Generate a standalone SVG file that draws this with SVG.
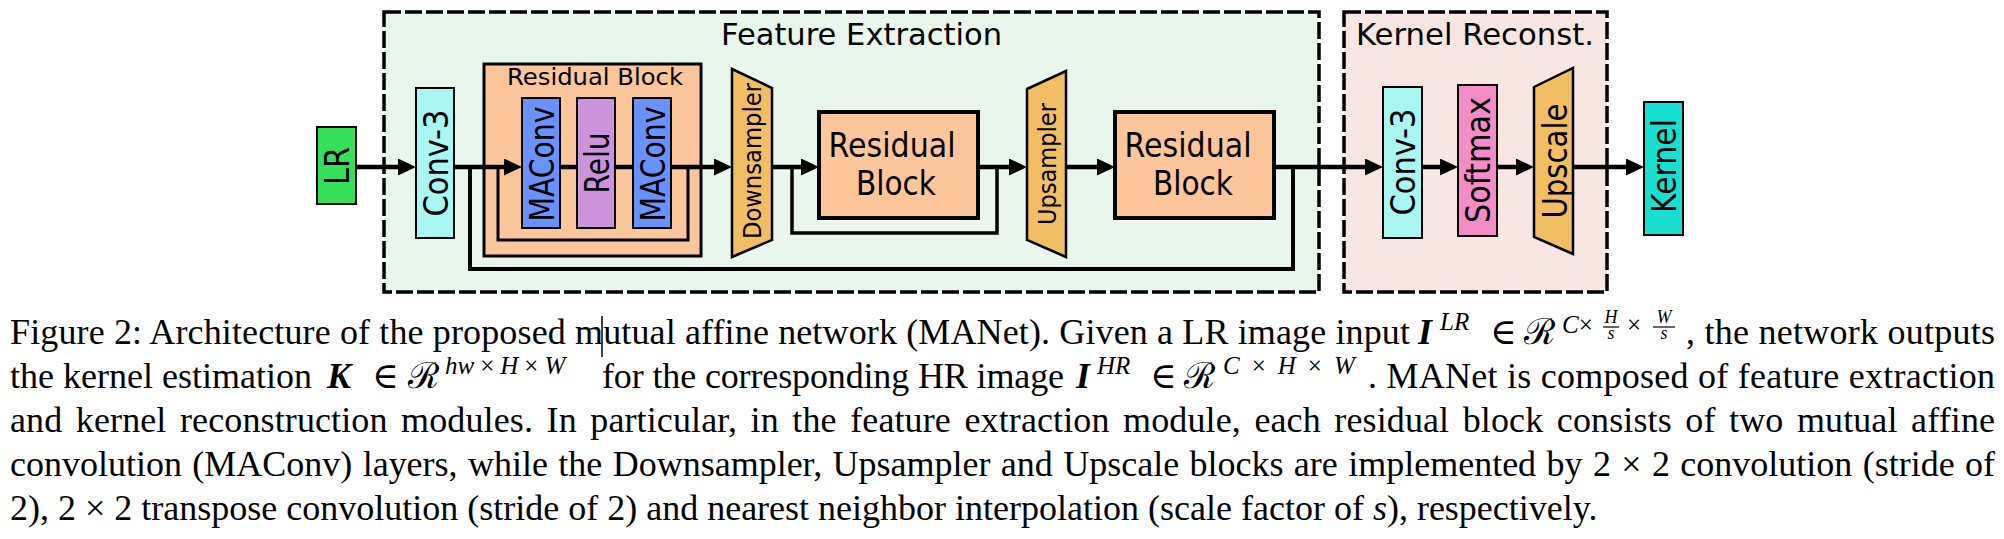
<svg xmlns="http://www.w3.org/2000/svg" width="2004" height="539" viewBox="0 0 2004 539">
<defs>
<style>
.sans{font-family:"DejaVu Sans",Verdana,sans-serif;fill:#000}
.vt{font-size:33px;text-anchor:middle;dominant-baseline:central}
.box{stroke:#000;stroke-width:2}
.rb{fill:#fdc59a;stroke:#000;stroke-width:4}
.trap{fill:#f2be64;stroke:#000;stroke-width:2.5;stroke-linejoin:miter}
.group{stroke:#000;stroke-width:3.5;stroke-dasharray:17 4}
.cap{font-family:"Liberation Serif","Times New Roman","DejaVu Serif",serif;font-size:36px;fill:#000}
.sup{font-size:25px}
.frac{font-size:18px}
.it{font-style:italic}
.bi{font-style:italic;font-weight:bold}
.conn{fill:none;stroke:#000;stroke-linejoin:miter}
.main{stroke-width:4.5}
</style>
<marker id="ah" markerUnits="userSpaceOnUse" markerWidth="18" markerHeight="17" viewBox="0 0 18 17" refX="8" refY="8.5" orient="auto">
<path d="M0,0 L18,8.5 L0,17 z" fill="#000"/>
</marker>
</defs>
<rect x="0" y="0" width="2004" height="539" fill="#fff"/>

<g id="feature-extraction">
<rect class="group" x="384" y="12" width="935" height="280" fill="#e8f6ec"/>
<text class="sans" x="721" y="45" font-size="30" textLength="281" lengthAdjust="spacingAndGlyphs">Feature Extraction</text>
</g>
<g id="kernel-reconst">
<rect class="group" x="1344" y="12" width="263" height="280" fill="#f8e6e2"/>
<text class="sans" x="1356" y="45" font-size="30" textLength="238" lengthAdjust="spacingAndGlyphs">Kernel Reconst.</text>
</g>

<g id="lr">
<rect class="box" x="317" y="127" width="39" height="77" fill="#35df58"/>
<text class="sans vt" transform="translate(337,166) rotate(-90)" textLength="38" lengthAdjust="spacingAndGlyphs">LR</text>
</g>
<g id="conv3-a">
<rect class="box" x="416" y="88" width="38" height="150" fill="#a8f7f5"/>
<text class="sans vt" transform="translate(436,163) rotate(-90)" textLength="107" lengthAdjust="spacingAndGlyphs">Conv-3</text>
</g>
<g id="residual-block-1">
<rect x="484" y="64" width="217" height="192" fill="#fdc59a" stroke="#000" stroke-width="3"/>
<text class="sans" x="507" y="85" font-size="23" textLength="176" lengthAdjust="spacingAndGlyphs">Residual Block</text>
</g>
<g id="maconv-1">
<rect class="box" x="522" y="98" width="38" height="130" fill="#6a92fd"/>
<text class="sans vt" transform="translate(542,164) rotate(-90)" textLength="115" lengthAdjust="spacingAndGlyphs">MAConv</text>
</g>
<g id="relu">
<rect class="box" x="577" y="98" width="38" height="130" fill="#cc92dc"/>
<text class="sans vt" transform="translate(597,163) rotate(-90)" textLength="61" lengthAdjust="spacingAndGlyphs">Relu</text>
</g>
<g id="maconv-2">
<rect class="box" x="633" y="98" width="38" height="130" fill="#6a92fd"/>
<text class="sans vt" transform="translate(653,164) rotate(-90)" textLength="115" lengthAdjust="spacingAndGlyphs">MAConv</text>
</g>
<g id="downsampler">
<polygon class="trap" points="732,69 772,88 772,240 732,257"/>
<text class="sans" transform="translate(752,161) rotate(-90)" font-size="25" text-anchor="middle" dominant-baseline="central" textLength="156" lengthAdjust="spacingAndGlyphs">Downsampler</text>
</g>
<g id="residual-block-2">
<rect class="rb" x="819" y="112" width="159" height="106"/>
<text class="sans" x="892" y="157" font-size="33" text-anchor="middle" textLength="127" lengthAdjust="spacingAndGlyphs">Residual</text>
<text class="sans" x="896" y="195" font-size="33" text-anchor="middle" textLength="80" lengthAdjust="spacingAndGlyphs">Block</text>
</g>
<g id="upsampler">
<polygon class="trap" points="1027,89 1066,71 1066,257 1027,240"/>
<text class="sans" transform="translate(1047,164) rotate(-90)" font-size="25" text-anchor="middle" dominant-baseline="central" textLength="122" lengthAdjust="spacingAndGlyphs">Upsampler</text>
</g>
<g id="residual-block-3">
<rect class="rb" x="1115" y="112" width="159" height="106"/>
<text class="sans" x="1188" y="157" font-size="33" text-anchor="middle" textLength="127" lengthAdjust="spacingAndGlyphs">Residual</text>
<text class="sans" x="1193" y="195" font-size="33" text-anchor="middle" textLength="80" lengthAdjust="spacingAndGlyphs">Block</text>
</g>
<g id="conv3-b">
<rect class="box" x="1383" y="87" width="39" height="151" fill="#a8f7f5"/>
<text class="sans vt" transform="translate(1403,162) rotate(-90)" textLength="107" lengthAdjust="spacingAndGlyphs">Conv-3</text>
</g>
<g id="softmax">
<rect class="box" x="1458" y="85" width="39" height="151" fill="#f48cc9"/>
<text class="sans vt" transform="translate(1478,160) rotate(-90)" textLength="126" lengthAdjust="spacingAndGlyphs">Softmax</text>
</g>
<g id="upscale">
<polygon class="trap" points="1534,87 1573,68 1573,254 1534,237"/>
<text class="sans vt" transform="translate(1555,161) rotate(-90)" textLength="115" lengthAdjust="spacingAndGlyphs">Upscale</text>
</g>
<g id="kernel">
<rect class="box" x="1644" y="102" width="39" height="133" fill="#17e0d2"/>
<text class="sans vt" transform="translate(1664,166) rotate(-90)" textLength="94" lengthAdjust="spacingAndGlyphs">Kernel</text>
</g>

<g id="connectors">
<path class="conn" stroke-width="4" d="M470,167 V269 H1293 V167"/>
<path class="conn" stroke-width="3" d="M498,167 V240 H688 V167"/>
<path class="conn" stroke-width="3.5" d="M792,167 V233 H997 V167"/>
<path class="conn main" d="M356,167 H406" marker-end="url(#ah)"/>
<path class="conn main" d="M454,167 H512" marker-end="url(#ah)"/>
<path class="conn main" d="M560,167 H577"/>
<path class="conn main" d="M615,167 H633"/>
<path class="conn main" d="M671,167 H722" marker-end="url(#ah)"/>
<path class="conn main" d="M771,167 H809" marker-end="url(#ah)"/>
<path class="conn main" d="M978,167 H1017" marker-end="url(#ah)"/>
<path class="conn main" d="M1066,167 H1105" marker-end="url(#ah)"/>
<path class="conn main" d="M1274,167 H1373" marker-end="url(#ah)"/>
<path class="conn main" d="M1422,167 H1448" marker-end="url(#ah)"/>
<path class="conn main" d="M1497,167 H1524" marker-end="url(#ah)"/>
<path class="conn main" d="M1573,167 H1634" marker-end="url(#ah)"/>
</g>

<g id="caption">
<text class="cap" x="10" y="344" textLength="1400" lengthAdjust="spacing">Figure 2: Architecture of the proposed mutual affine network (MANet). Given a LR image input</text>
<line x1="602" y1="316" x2="602" y2="357" stroke="#000" stroke-width="1.5"/>
<text class="cap bi" x="1418" y="344" font-size="38">I</text>
<text class="cap it sup" x="1440" y="330">LR</text>
<text class="cap" x="1490" y="344">∈</text>
<text class="cap" x="1524" y="344">ℛ</text>
<text class="cap sup" x="1562" y="333"><tspan class="it">C</tspan>×</text>
<text class="cap it frac" x="1611" y="323" text-anchor="middle">H</text>
<line x1="1603" y1="327" x2="1619" y2="327" stroke="#000" stroke-width="1.2"/>
<text class="cap it frac" x="1611" y="339" text-anchor="middle">s</text>
<text class="cap sup" x="1627" y="333">×</text>
<text class="cap it frac" x="1664" y="323" text-anchor="middle">W</text>
<line x1="1653" y1="327" x2="1675" y2="327" stroke="#000" stroke-width="1.2"/>
<text class="cap it frac" x="1664" y="339" text-anchor="middle">s</text>
<text class="cap" x="1686" y="344" textLength="309" lengthAdjust="spacing">, the network outputs</text>

<text class="cap" x="10" y="388">the kernel estimation</text>
<text class="cap bi" x="327" y="388" font-size="38">K</text>
<text class="cap" x="372" y="388">∈</text>
<text class="cap" x="408" y="388">ℛ</text>
<text class="cap sup" x="445" y="374"><tspan class="it">hw</tspan><tspan dx="6">×</tspan><tspan class="it" dx="6">H</tspan><tspan dx="6">×</tspan><tspan class="it" dx="6">W</tspan></text>
<text class="cap" x="602" y="388" textLength="462" lengthAdjust="spacing">for the corresponding HR image</text>
<text class="cap bi" x="1076" y="388" font-size="38">I</text>
<text class="cap it sup" x="1097" y="374">HR</text>
<text class="cap" x="1150" y="388">∈</text>
<text class="cap" x="1184" y="388">ℛ</text>
<text class="cap sup" x="1223" y="374"><tspan class="it">C</tspan><tspan dx="12">×</tspan><tspan class="it" dx="12">H</tspan><tspan dx="12">×</tspan><tspan class="it" dx="12">W</tspan></text>
<text class="cap" x="1368" y="388" textLength="627" lengthAdjust="spacing">. MANet is composed of feature extraction</text>

<text class="cap" x="10" y="432" word-spacing="4.4" textLength="1985" lengthAdjust="spacing">and kernel reconstruction modules. In particular, in the feature extraction module, each residual block consists of two mutual affine</text>
<text class="cap" x="10" y="476" word-spacing="1.4" textLength="1985" lengthAdjust="spacing">convolution (MAConv) layers, while the Downsampler, Upsampler and Upscale blocks are implemented by 2 × 2 convolution (stride of</text>
<text class="cap" x="10" y="520">2), 2 × 2 transpose convolution (stride of 2) and nearest neighbor interpolation (scale factor of <tspan class="it">s</tspan>), respectively.</text>
</g>
</svg>
